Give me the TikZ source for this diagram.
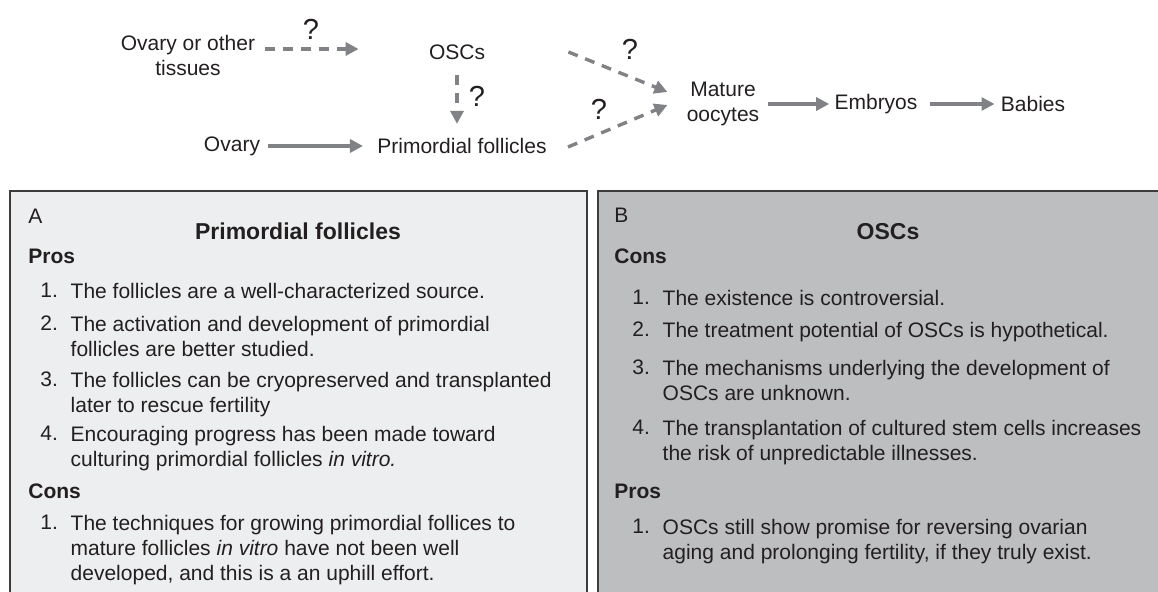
\documentclass[tikz,border=0pt]{standalone}
\usepackage{fontspec}
\setmainfont{Liberation Sans}
\usepackage{xcolor}
\usetikzlibrary{arrows.meta}
\usetikzlibrary{calc}
\definecolor{arrowgray}{HTML}{808285}
\definecolor{panela}{HTML}{EDEEEF}
\definecolor{panelb}{HTML}{BDBEC0}
\definecolor{ink}{HTML}{231F20}
\definecolor{rim}{HTML}{3C3C3E}

\begin{document}
\begin{tikzpicture}[x=0.5pt,y=-0.5pt,
  font=\fontsize{10.5}{12.5}\selectfont, text=ink,
  lbl/.style={inner sep=0pt},
  qmark/.style={inner sep=0pt,font=\fontsize{14.5}{16}\selectfont},
  flow/.style={draw=arrowgray,line width=1.7pt,-{Triangle[length=6.5pt,width=6.5pt]}},
  maybe/.style={flow,dash pattern=on 5pt off 4pt},
  panel/.style={draw=rim,line width=1pt},
  title/.style={inner sep=0pt,anchor=base,font=\bfseries\fontsize{11.5}{13}\selectfont},
  head/.style={inner sep=0pt,anchor=base west,font=\bfseries\fontsize{10.5}{12.5}\selectfont},
  num/.style={inner sep=0pt,anchor=base west},
  item/.style={inner sep=0pt,anchor=north west,align=left,xshift=6pt}]
  \useasboundingbox (0,0) rectangle (1158,592);
  \clip (0,0) rectangle (1158,592);

  % top row
  \node[lbl,align=center] (ovtis) at (188,56) {Ovary or other\\tissues};
  \node[lbl] (oscs) at (457,52) {OSCs};
  \node[lbl] (ovary) at (232,146) {Ovary};
  \node[lbl] (prim) at (462,146) {Primordial follicles};
  \node[lbl,align=center] (mature) at (723,104) {Mature\\oocytes};
  \node[lbl] (embryos) at (876,104) {Embryos};
  \node[lbl] (babies) at (1033,104) {Babies};

  \node[qmark] (q1) at (311,29) {?};
  \node[qmark] (q2) at (477,96) {?};
  \node[qmark] (q3) at (630,49) {?};
  \node[qmark] (q4) at (599,109) {?};

  \draw[maybe,shorten <=4.5pt,shorten >=35pt] ($(ovtis.east |- oscs.west)+(0,-3)$) -- ($(oscs.west)+(0,-3)$);
  \draw[maybe,shorten <=7.5pt,shorten >=7pt] (oscs.south) -- (oscs.south |- prim.north);
  \draw[flow,shorten <=4pt,shorten >=7pt] (ovary) -- (prim);
  \draw[maybe] ($(oscs.east)+(83,0)$) -- ($(mature.west)+(-19,-12)$);
  \draw[maybe] ($(prim.east)+(21,1)$) -- ($(mature.west)+(-19,1)$);
  \draw[flow,shorten <=4pt,shorten >=2.5pt] (mature) -- (embryos);
  \draw[flow,shorten <=6pt,shorten >=3pt] (embryos) -- (babies);

  % panel A
  \draw[panel,fill=panela] (10,191) rectangle (587,640);
  \node[lbl,anchor=base west] (labA) at (28,224) {A};
  \node[title] (titA) at (298,240) {Primordial follicles};
  \node[head] (prosA) at (28,264) {Pros};
  \node[num] (pa1) at (40,298) {1.};
  \node[item] (pa1t) at (pa1.north east) {The follicles are a well-characterized source.};
  \node[num] (pa2) at (40,331) {2.};
  \node[item] (pa2t) at (pa2.north east) {The activation and development of primordial\\follicles are better studied.};
  \node[num] (pa3) at (40,387) {3.};
  \node[item] (pa3t) at (pa3.north east) {The follicles can be cryopreserved and transplanted\\later to rescue fertility};
  \node[num] (pa4) at (40,441) {4.};
  \node[item] (pa4t) at (pa4.north east) {Encouraging progress has been made toward\\culturing primordial follicles \textit{in vitro.}};
  \node[head] (consA) at (28,499) {Cons};
  \node[num] (ca1) at (40,530) {1.};
  \node[item] (ca1t) at (ca1.north east) {The techniques for growing primordial follices to\\mature follicles \textit{in vitro} have not been well\\developed, and this is a an uphill effort.};

  % panel B
  \draw[panel,fill=panelb] (598,191) rectangle (1190,640);
  \node[lbl,anchor=base west] (labB) at (614,223) {B};
  \node[title] (titB) at (888,240) {OSCs};
  \node[head] (consB) at (614,264) {Cons};
  \node[num] (cb1) at (632,305) {1.};
  \node[item] (cb1t) at (cb1.north east) {The existence is controversial.};
  \node[num] (cb2) at (632,337) {2.};
  \node[item] (cb2t) at (cb2.north east) {The treatment potential of OSCs is hypothetical.};
  \node[num] (cb3) at (632,375) {3.};
  \node[item] (cb3t) at (cb3.north east) {The mechanisms underlying the development of\\OSCs are unknown.};
  \node[num] (cb4) at (632,435) {4.};
  \node[item] (cb4t) at (cb4.north east) {The transplantation of cultured stem cells increases\\the risk of unpredictable illnesses.};
  \node[head] (prosB) at (614,499) {Pros};
  \node[num] (pb1) at (632,534) {1.};
  \node[item] (pb1t) at (pb1.north east) {OSCs still show promise for reversing ovarian\\aging and prolonging fertility, if they truly exist.};
\end{tikzpicture}
\end{document}
